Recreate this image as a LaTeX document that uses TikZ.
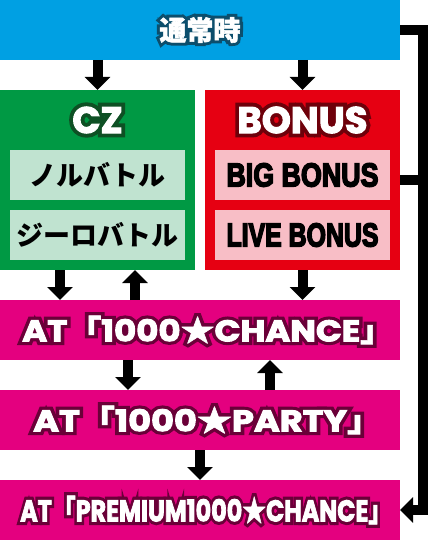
\documentclass[tikz,border=0pt]{standalone}
\usepackage{fontspec}
\setmainfont{Noto Sans CJK JP}
\newfontfamily\jpplain{Noto Sans CJK JP}[FakeBold=2]
\newfontfamily\jpthick{Noto Sans CJK JP}[FakeBold=24]
\newfontfamily\latplain{Poppins}[FakeBold=3]
\newfontfamily\latthick{Poppins}[FakeBold=24]
\newfontfamily\grotesk{Liberation Sans}[FakeBold=5]
\newcommand\jp{\jpplain}
\newcommand\lat{\latplain}
% white letters with a dark rim: thick copy below, plain copy on top
\newcommand\rimtext[2]{\leavevmode\rlap{\color{#1}\let\jp\jpthick\let\lat\latthick#2}#2}
\usetikzlibrary{arrows.meta}

\definecolor{normalblue}{RGB}{0,160,227}
\definecolor{normaldark}{RGB}{12,78,108}
\definecolor{czgreen}{RGB}{0,153,68}
\definecolor{czdark}{RGB}{14,80,36}
\definecolor{czlight}{RGB}{192,227,208}
\definecolor{bonusred}{RGB}{230,0,18}
\definecolor{bonusdark}{RGB}{110,0,10}
\definecolor{bonuslight}{RGB}{248,190,198}
\definecolor{atpink}{RGB}{228,0,127}
\definecolor{atdark}{RGB}{106,0,56}

\begin{document}
\begin{tikzpicture}[x=1pt, y=-1pt,
    box/.style={fill=#1, inner sep=0, outer sep=0},
    title/.style={text=white, inner sep=0, font=\bfseries\fontsize{37}{37}\selectfont},
    attext/.style={text=white, inner sep=0, anchor=west, font=\bfseries\fontsize{30}{30}\selectfont},
    jptext/.style={text=black, font=\bfseries\fontsize{27}{27}\selectfont},
    bntext/.style={text=black, font=\grotesk\bfseries\fontsize{33}{33}\selectfont},
    blockarrow/.style={line width=10pt, -{Triangle[width=25pt, length=13pt]}},
    rail/.style={line width=10.5pt, line join=miter}]
    \useasboundingbox (0,0) rectangle (430,540);
    % top row
    \node[box=normalblue, minimum width=400, minimum height=60, text=white, font=\bfseries\fontsize{27}{27}\selectfont] (normal) at (200,30) {\rimtext{normaldark}{\jp 通常時}};
    % CZ and BONUS
    \node[box=czgreen, minimum width=195, minimum height=180] (cz) at (97.5,180) {};
    \node[title] (cztitle) at (97.5,120) {\rimtext{czdark}{\lat CZ}};
    \node[box=czlight, minimum width=175, minimum height=50, jptext] (norubattle) at (97.5,175) {ノルバトル};
    \node[box=czlight, minimum width=175, minimum height=50, jptext] (zerobattle) at (97.5,235) {ジーロバトル};
    \node[box=bonusred, minimum width=195, minimum height=180] (bonus) at (302.5,180) {};
    \node[title] (bonustitle) at (302.5,120) {\rimtext{bonusdark}{\lat BONUS}};
    \node[box=bonuslight, minimum width=175, minimum height=50, bntext] (bigbonus) at (302.5,175) {\resizebox{152pt}{\height}{BIG BONUS}};
    \node[box=bonuslight, minimum width=175, minimum height=50, bntext] (livebonus) at (302.5,235) {\resizebox{152pt}{\height}{LIVE BONUS}};
    % AT rows
    \node[box=atpink, minimum width=400, minimum height=60] (chance) at (200,330) {};
    \node[attext] (chancetext) at ([xshift=22pt]chance.west) {\resizebox{372pt}{\height}{\rimtext{atdark}{\lat AT{\jp 「}1000{\jp ★}CHANCE{\jp 」}}}};
    \node[box=atpink, minimum width=400, minimum height=60] (party) at (200,420) {};
    \node[attext] (partytext) at ([xshift=33pt]party.west) {\resizebox{349pt}{\height}{\rimtext{atdark}{\lat AT{\jp 「}1000{\jp ★}PARTY{\jp 」}}}};
    \node[box=atpink, minimum width=400, minimum height=60] (premium) at (200,510) {};
    \node[attext] (premiumtext) at ([xshift=20pt]premium.west) {\resizebox{372pt}{\height}{\rimtext{atdark}{\lat AT{\jp 「}PREMIUM1000{\jp ★}CHANCE{\jp 」}}}};
    % arrows
    \draw[blockarrow] (normal.south -| cz.north) -- (cz.north);
    \draw[blockarrow] (normal.south -| bonus.north) -- (bonus.north);
    \draw[blockarrow] ([xshift=-37.5pt]cz.south) -- ([xshift=-37.5pt]cz.south |- chance.north);
    \draw[blockarrow] ([xshift=37.5pt]cz.south |- chance.north) -- ([xshift=37.5pt]cz.south);
    \draw[blockarrow] (bonus.south) -- (bonus.south |- chance.north);
    \draw[blockarrow] ([xshift=-72pt]chance.south) -- ([xshift=-72pt]chance.south |- party.north);
    \draw[blockarrow] ([xshift=70pt]chance.south |- party.north) -- ([xshift=70pt]chance.south);
    \draw[blockarrow] (party.south) -- (premium.north);
    % right side line
    \draw[rail, -{Triangle[width=25pt, length=13pt]}] (normal.east) -- ++(23,0) |- (premium.east);
    \draw[rail] (bonus.east) -- ++(23,0);
\end{tikzpicture}
\end{document}
